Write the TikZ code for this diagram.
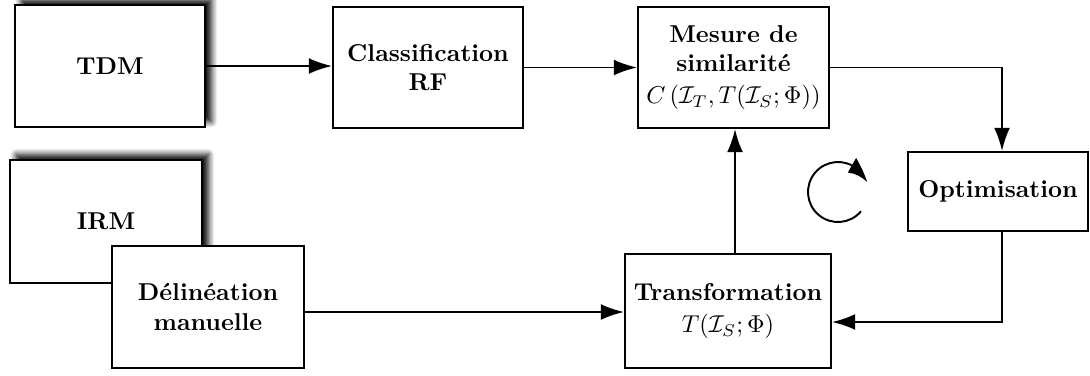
\documentclass[tikz,border=0pt]{standalone}
\usepackage{amsmath,amssymb}
\usetikzlibrary{calc}
\usetikzlibrary{arrows.meta,bending,shadows.blur}

\begin{document}
\begin{tikzpicture}[x=0.41pt, y=0.41pt, line width=0.8pt,
    every node/.style={draw, fill=white, align=center, font=\bfseries, inner sep=2pt},
    shad/.style={blur shadow={shadow xshift=2.6pt, shadow yshift=2.2pt, shadow blur radius=2.5pt, shadow blur steps=8, shadow opacity=100}},
    arr/.style={-{Latex[length=9.5pt,width=6.5pt]}}]
\useasboundingbox (0,0) rectangle (1090,-375);
     \node[shad, minimum width=190*0.41pt, minimum height=122*0.41pt] (tdm) at (110,-66) {TDM};
     \node[minimum width=190*0.41pt, minimum height=121*0.41pt] (rf) at (428,-67.5) {Classification\\RF};
     \node[minimum width=191*0.41pt, minimum height=121*0.41pt] (mes) at (733.5,-67.5) {Mesure de\\similarité\\[1pt] \mdseries $C\left(\mathcal{I}_T, T(\mathcal{I}_S;\Phi)\right)$};
     \node[minimum width=180*0.41pt, minimum height=79*0.41pt] (opt) at (998,-191.5) {Optimisation};
     \node[shad, minimum width=192*0.41pt, minimum height=123*0.41pt] (irm) at (106,-221.5) {IRM};
     \node[minimum width=192*0.41pt, minimum height=122*0.41pt] (del) at (208,-307) {Délinéation\\manuelle};
     \node[minimum width=206*0.41pt, minimum height=114*0.41pt] (tr) at (728,-311) {Transformation\\[1pt] \mdseries $T(\mathcal{I}_S;\Phi)$};
\draw[arr] (tdm.east) -- (tdm.east -| rf.west);
\draw[arr] (rf.east) -- (rf.east -| mes.west);
\draw[arr] (mes.east) -| ($(opt.north)+(4,0)$);
\draw[arr] ($(opt.south)+(4,0)$) |- ($(tr.east)+(0,-11)$);
\draw[arr] ($(del.east)+(0,-5)$) -- ($(tr.west)+(0,-1)$);
\draw[arr] ($(tr.north)+(7,0)$) -- ($(mes.south)+(1.5,0)$);
%\draw (tr) -- (opt);
\draw[-{Latex[length=9.5pt,width=7pt,bend]}] (838,-192) ++(-40:30) arc[start angle=-40, end angle=-342, radius=30];
\end{tikzpicture}
\end{document}
